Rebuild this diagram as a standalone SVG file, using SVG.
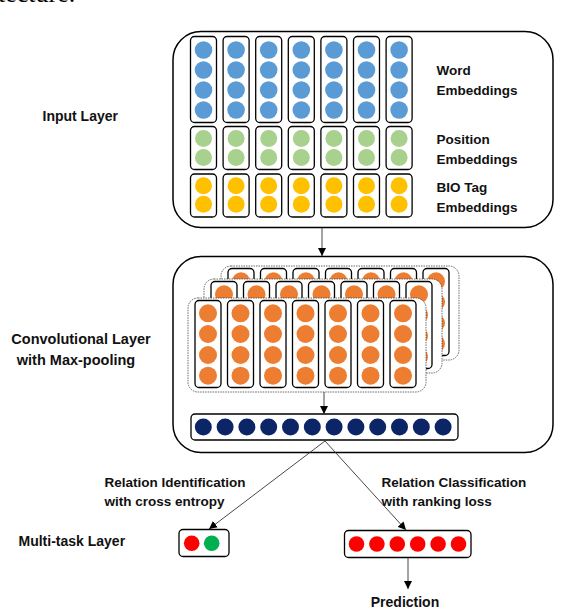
<svg xmlns="http://www.w3.org/2000/svg" xmlns:xlink="http://www.w3.org/1999/xlink" width="568" height="612" viewBox="0 0 568 612">
<style>
.lbl{font-family:"Liberation Sans",Arial,sans-serif;font-weight:bold;font-size:13.5px;fill:#111}
.big{fill:#fff;stroke:#000;stroke-width:1.5}
.col{fill:#fff;stroke:#000;stroke-width:1.3}
.sheet{fill:#fff;stroke:#444;stroke-width:0.8;stroke-dasharray:1.5 1}
.blue{fill:#5b9bd5}.green{fill:#a9d18e}.yel{fill:#ffc000}.org{fill:#ed7d31}.navy{fill:#0b2566}.red{fill:#ff0000}.grn{fill:#00b050}
.conn{stroke:#333;stroke-width:0.9;fill:none}
</style>
<defs>
<marker id="ah" markerUnits="userSpaceOnUse" markerWidth="8" markerHeight="8" refX="8" refY="4" orient="auto">
<path d="M0,0 L8,4 L0,8 z" fill="#000"/>
</marker>
<g id="sheet">
<rect class="sheet" x="188" y="298" width="238" height="94" rx="10"/>
<g id="ocol">
<rect class="col" x="195" y="300.5" width="26" height="87" rx="4"/>
<circle class="org" cx="208" cy="313.3" r="9"/>
<circle class="org" cx="208" cy="334" r="9"/>
<circle class="org" cx="208" cy="355" r="9"/>
<circle class="org" cx="208" cy="375.7" r="9"/>
</g>
<use xlink:href="#ocol" x="32.5"/>
<use xlink:href="#ocol" x="65"/>
<use xlink:href="#ocol" x="97.5"/>
<use xlink:href="#ocol" x="130"/>
<use xlink:href="#ocol" x="162.5"/>
<use xlink:href="#ocol" x="195"/>
</g>
<g id="wcol">
<rect class="col" x="190.5" y="36.5" width="26" height="86" rx="4"/>
<circle class="blue" cx="203.5" cy="50" r="8.8"/>
<circle class="blue" cx="203.5" cy="70" r="8.8"/>
<circle class="blue" cx="203.5" cy="90" r="8.8"/>
<circle class="blue" cx="203.5" cy="110" r="8.8"/>
</g>
<g id="pcol">
<rect class="col" x="190.5" y="126.5" width="26" height="43" rx="4"/>
<circle class="green" cx="203.5" cy="138.5" r="8.5"/>
<circle class="green" cx="203.5" cy="157.5" r="8.5"/>
</g>
<g id="bcol">
<rect class="col" x="190.5" y="174" width="26" height="43" rx="4"/>
<circle class="yel" cx="203.5" cy="185.7" r="8.5"/>
<circle class="yel" cx="203.5" cy="204.3" r="8.5"/>
</g>
</defs>
<rect width="568" height="612" fill="#fff"/>
<text x="-2" y="2" style="font-family:'Liberation Serif',serif;font-size:26px;fill:#000">tecture.</text>

<g id="input-layer">
<rect class="big" x="173" y="31.5" width="380" height="196" rx="28"/>
<use xlink:href="#wcol"/><use xlink:href="#wcol" x="32.6"/><use xlink:href="#wcol" x="65.2"/><use xlink:href="#wcol" x="97.8"/><use xlink:href="#wcol" x="130.4"/><use xlink:href="#wcol" x="163"/><use xlink:href="#wcol" x="195.6"/>
<use xlink:href="#pcol"/><use xlink:href="#pcol" x="32.6"/><use xlink:href="#pcol" x="65.2"/><use xlink:href="#pcol" x="97.8"/><use xlink:href="#pcol" x="130.4"/><use xlink:href="#pcol" x="163"/><use xlink:href="#pcol" x="195.6"/>
<use xlink:href="#bcol"/><use xlink:href="#bcol" x="32.6"/><use xlink:href="#bcol" x="65.2"/><use xlink:href="#bcol" x="97.8"/><use xlink:href="#bcol" x="130.4"/><use xlink:href="#bcol" x="163"/><use xlink:href="#bcol" x="195.6"/>
<text class="lbl" x="436.5" y="75">Word</text>
<text class="lbl" x="436.5" y="95">Embeddings</text>
<text class="lbl" x="436.5" y="143.5">Position</text>
<text class="lbl" x="436.5" y="163.5">Embeddings</text>
<text class="lbl" x="436.5" y="191.5">BIO Tag</text>
<text class="lbl" x="436.5" y="211.5">Embeddings</text>
</g>
<text class="lbl" x="42.5" y="121" style="font-size:14px">Input Layer</text>

<g id="conv-layer">
<rect class="big" x="173" y="256.5" width="380" height="196" rx="28"/>
<use xlink:href="#sheet" x="33" y="-32"/>
<use xlink:href="#sheet" x="16" y="-19"/>
<use xlink:href="#sheet"/>
</g>
<text class="lbl" x="81" y="344" text-anchor="middle" style="font-size:14.5px">Convolutional Layer</text>
<text class="lbl" x="76" y="364.5" text-anchor="middle" style="font-size:14.5px">with Max-pooling</text>

<g id="pooled">
<rect class="col" x="191" y="414" width="267" height="26" rx="4"/>
<circle class="navy" cx="203.3" cy="427" r="8.5"/>
<circle class="navy" cx="225.1" cy="427" r="8.5"/>
<circle class="navy" cx="246.9" cy="427" r="8.5"/>
<circle class="navy" cx="268.7" cy="427" r="8.5"/>
<circle class="navy" cx="290.5" cy="427" r="8.5"/>
<circle class="navy" cx="312.3" cy="427" r="8.5"/>
<circle class="navy" cx="334.1" cy="427" r="8.5"/>
<circle class="navy" cx="355.9" cy="427" r="8.5"/>
<circle class="navy" cx="377.7" cy="427" r="8.5"/>
<circle class="navy" cx="399.5" cy="427" r="8.5"/>
<circle class="navy" cx="421.3" cy="427" r="8.5"/>
<circle class="navy" cx="443.1" cy="427" r="8.5"/>
</g>

<g id="rel-id">
<rect class="col" x="179" y="529.5" width="50" height="27" rx="4"/>
<circle class="red" cx="191.7" cy="543.3" r="7.8"/>
<circle class="grn" cx="211.7" cy="543.3" r="7.8"/>
</g>
<g id="rel-cls">
<rect class="col" x="344.5" y="530.5" width="126.5" height="27" rx="4"/>
<circle class="red" cx="356.5" cy="544" r="7.8"/>
<circle class="red" cx="376.9" cy="544" r="7.8"/>
<circle class="red" cx="397.3" cy="544" r="7.8"/>
<circle class="red" cx="417.7" cy="544" r="7.8"/>
<circle class="red" cx="438.1" cy="544" r="7.8"/>
<circle class="red" cx="458.5" cy="544" r="7.8"/>
</g>
<text class="lbl" x="18.5" y="546" style="font-size:14px">Multi-task Layer</text>
<text class="lbl" x="104.5" y="486.5">Relation Identification</text>
<text class="lbl" x="104.5" y="505.5">with cross entropy</text>
<text class="lbl" x="381.5" y="486.5">Relation Classification</text>
<text class="lbl" x="381.5" y="505.5">with ranking loss</text>
<text class="lbl" x="405" y="606.5" text-anchor="middle" style="font-size:14px">Prediction</text>

<g id="connectors">
<line class="conn" x1="322" y1="228" x2="322" y2="256" marker-end="url(#ah)"/>
<line class="conn" x1="324" y1="392" x2="324" y2="414" marker-end="url(#ah)"/>
<line class="conn" x1="325" y1="441" x2="209" y2="529" marker-end="url(#ah)"/>
<line class="conn" x1="325" y1="441" x2="406" y2="530" marker-end="url(#ah)"/>
<line class="conn" x1="408" y1="558" x2="408" y2="589" marker-end="url(#ah)"/>
</g>
</svg>
